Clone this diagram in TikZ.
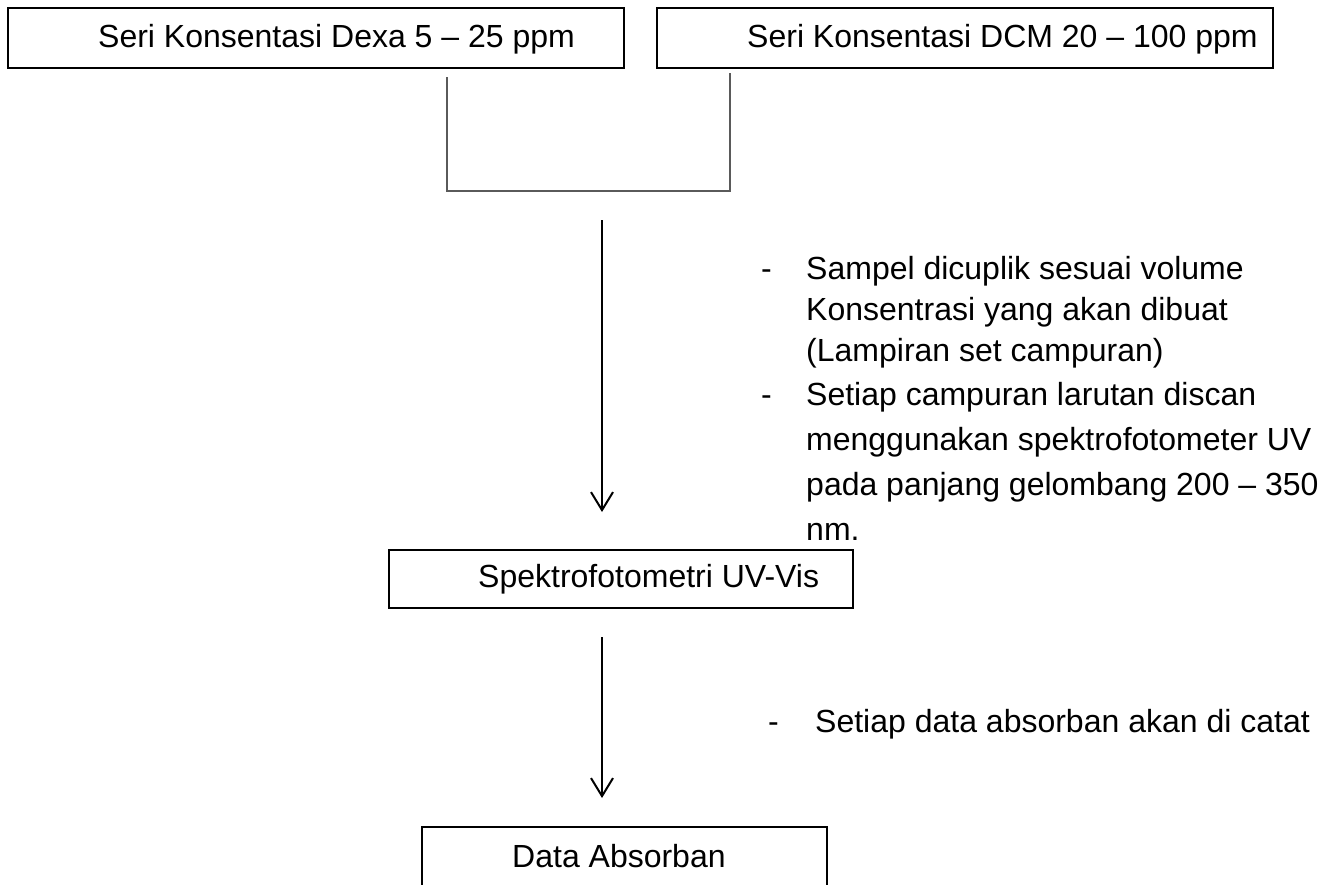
\documentclass[tikz,border=0pt]{standalone}
\usepackage{fontspec}
\setmainfont{Liberation Sans}
\usetikzlibrary{arrows.meta}
\definecolor{linkgray}{RGB}{90,90,90}
\begin{document}
\begin{tikzpicture}[x=1pt,y=-1pt,
  box/.style={draw=black, line width=2pt, inner sep=0pt, fill=none},
  lbl/.style={inner sep=0pt, anchor=base west, font=\fontsize{32}{38}\selectfont},
  link/.style={draw=linkgray, line width=1.6pt},
  flow/.style={draw=black, line width=2pt, -{Straight Barb[length=18pt,width=22pt,line width=2pt]}}]
\useasboundingbox (0,0) rectangle (1337,884);
\clip (0,0) rectangle (1337,884);
% boxes
\node[box, minimum width=616pt, minimum height=60pt] (b1) at (316,38) {};
\node[box, minimum width=616pt, minimum height=60pt] (b2) at (965,38) {};
\node[box, minimum width=464pt, minimum height=58pt] (b3) at (621,579) {};
\node[box, minimum width=405pt, minimum height=114pt] (b4) at (624.5,884) {};
% box texts
\node[lbl] (t1) at (98,47) {Seri Konsentasi Dexa 5 – 25 ppm};
\node[lbl] (t2) at (747,47) {Seri Konsentasi DCM 20 – 100 ppm};
\node[lbl] (t3) at (478,587) {Spektrofotometri UV-Vis};
\node[lbl] (t4) at (512,867) {Data Absorban};
% joining bracket
\coordinate (c1) at (447,77);
\coordinate (j1) at (447,191);
\coordinate (j2) at (730,191);
\coordinate (c2) at (730,73);
\draw[link] (c1) -- (j1) -- (j2) -- (c2);
% arrows
\coordinate (a1s) at (602,220);
\coordinate (a1e) at (602,512);
\coordinate (a2s) at (602,637);
\coordinate (a2e) at (602,798);
\draw[flow] (a1s) -- (a1e);
\draw[flow] (a2s) -- (a2e);
% notes
\node[lbl] (d1) at (761,279) {-};
\node[lbl] (n1) at (806,279) {Sampel dicuplik sesuai volume};
\node[lbl] (n2) at (806,320) {Konsentrasi yang akan dibuat};
\node[lbl] (n3) at (806,361) {(Lampiran set campuran)};
\node[lbl] (d2) at (761,405) {-};
\node[lbl] (n4) at (806,405) {Setiap campuran larutan discan};
\node[lbl] (n5) at (806,450) {menggunakan spektrofotometer UV};
\node[lbl] (n6) at (806,495) {pada panjang gelombang 200 – 350};
\node[lbl] (n7) at (806,540) {nm.};
\node[lbl] (d3) at (768,732) {-};
\node[lbl] (n8) at (815,732) {Setiap data absorban akan di catat};
\end{tikzpicture}
\end{document}
